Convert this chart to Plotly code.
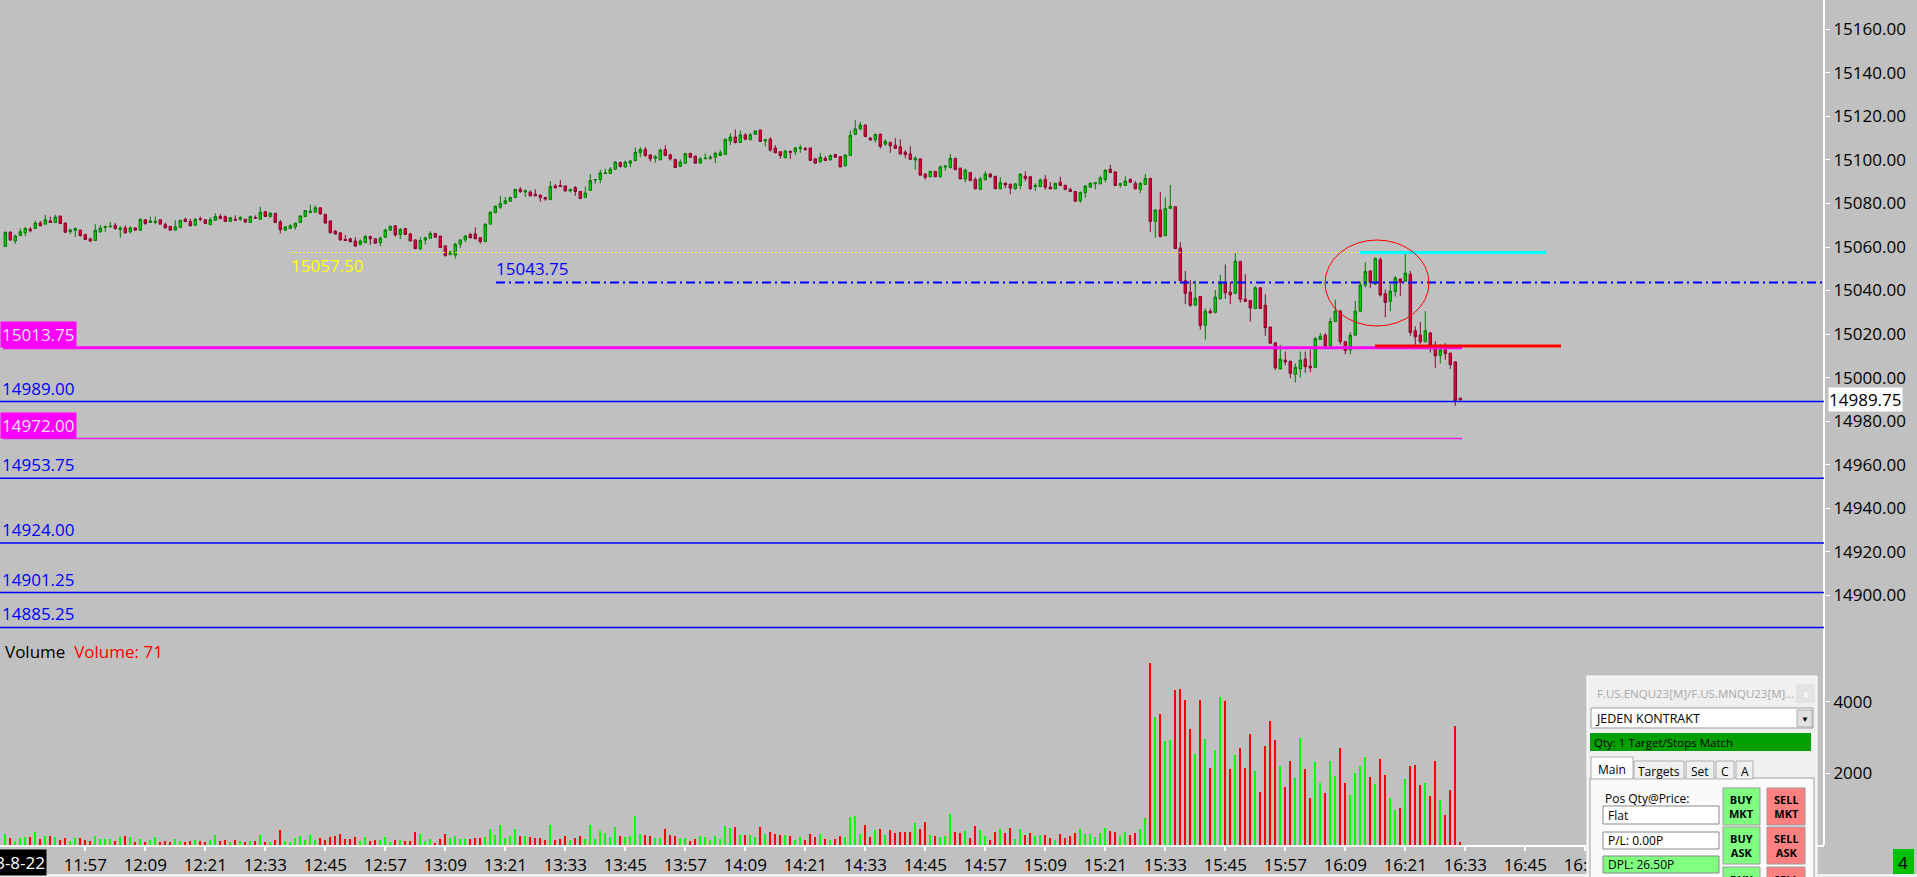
import plotly.graph_objects as go

# ---------------- data ----------------
bar_start = "11:41"
date_label = "2023-8-22"

opens = [
    15060.25, 15066.75, 15062.75, 15065.25, 15066.5, 15068.25, 15068.5, 15071.0, 15070.5, 15072.0,
    15071.25, 15074.25, 15071.0, 15067.0, 15067.75, 15067.75, 15065.75, 15063.75, 15063.0, 15067.0,
    15069.0, 15069.25, 15070.0, 15068.0, 15068.75, 15067.0, 15068.75, 15067.75, 15072.5, 15071.25,
    15071.25, 15072.5, 15070.25, 15069.5, 15067.75, 15069.0, 15072.75, 15071.75, 15070.0, 15073.0,
    15072.5, 15070.25, 15072.25, 15074.0, 15074.0, 15071.75, 15072.75, 15072.75, 15072.75, 15071.25,
    15073.5, 15072.75, 15076.25, 15074.0, 15075.5, 15071.5, 15067.75, 15068.5, 15069.25, 15071.25,
    15074.0, 15075.75, 15076.0, 15078.0, 15075.0, 15072.0, 15067.25, 15066.5, 15063.5, 15063.75,
    15062.75, 15061.25, 15062.0, 15064.75, 15063.75, 15062.0, 15064.5, 15067.75, 15069.75, 15065.75,
    15068.5, 15066.0, 15063.25, 15059.25, 15063.25, 15064.0, 15066.25, 15065.0, 15060.5, 15056.5,
    15056.25, 15061.25, 15063.25, 15065.75, 15066.0, 15064.25, 15062.5, 15070.5, 15075.75, 15078.25,
    15080.0, 15081.0, 15082.75, 15086.5, 15085.25, 15085.25, 15084.25, 15083.75, 15082.75, 15081.75,
    15088.0, 15088.25, 15088.0, 15085.75, 15087.25, 15085.5, 15082.75, 15086.0, 15090.75, 15091.0,
    15093.75, 15093.75, 15095.75, 15098.75, 15096.75, 15098.5, 15099.75, 15103.25, 15104.75, 15102.25,
    15100.75, 15100.0, 15104.75, 15102.25, 15100.25, 15097.0, 15098.5, 15103.0, 15101.75, 15098.5,
    15100.5, 15100.75, 15101.25, 15102.0, 15102.5, 15108.75, 15110.5, 15108.0, 15111.5, 15109.25,
    15111.75, 15113.75, 15108.75, 15109.5, 15105.5, 15103.75, 15101.0, 15104.0, 15103.75, 15105.25,
    15105.25, 15105.5, 15100.5, 15099.25, 15100.75, 15100.0, 15102.5, 15101.5, 15097.25, 15102.0,
    15111.75, 15114.25, 15116.0, 15110.0, 15109.25, 15111.75, 15107.25, 15108.0, 15106.75, 15106.0,
    15103.5, 15102.75, 15100.0, 15100.5, 15093.5, 15092.25, 15094.75, 15092.25, 15096.75, 15096.5,
    15100.75, 15096.25, 15091.25, 15094.25, 15091.0, 15086.5, 15091.0, 15093.5, 15092.5, 15086.75,
    15089.25, 15088.75, 15086.75, 15088.25, 15092.5, 15092.25, 15087.75, 15087.75, 15091.0, 15087.5,
    15086.75, 15089.75, 15088.25, 15086.5, 15085.5, 15081.25, 15085.0, 15087.5, 15089.0, 15089.0,
    15091.0, 15095.75, 15094.5, 15088.5, 15088.25, 15091.0, 15089.25, 15086.5, 15088.75, 15091.5,
    15071.75, 15077.0, 15065.25, 15077.75, 15078.5, 15059.5, 15044.5, 15039.25, 15033.25, 15037.25,
    15024.0, 15030.5, 15030.0, 15036.25, 15043.75, 15039.25, 15038.75, 15053.25, 15036.0, 15035.5,
    15031.75, 15041.25, 15033.25, 15023.25, 15016.0, 15004.0, 15008.0, 15007.5, 15001.5, 15004.0,
    15008.5, 15005.25, 15004.75, 15017.5, 15019.5, 15014.75, 15025.75, 15030.5, 15016.5, 15012.75,
    15019.5, 15030.5, 15042.5, 15049.0, 15043.0, 15054.25, 15038.5, 15035.0, 15039.5, 15045.25,
    15044.25, 15047.5, 15021.5, 15019.5, 15016.5, 15020.5, 15013.25, 15010.25, 15012.75, 15011.25,
    15007.25, 14990.5,
]
highs = [
    15067.0, 15067.25, 15065.75, 15068.5, 15069.25, 15069.25, 15072.0, 15072.0, 15074.75, 15074.0,
    15074.75, 15074.25, 15071.0, 15068.5, 15069.0, 15068.0, 15065.75, 15064.25, 15070.5, 15070.0,
    15070.0, 15071.5, 15071.0, 15069.5, 15070.0, 15069.5, 15069.0, 15073.0, 15072.75, 15074.0,
    15074.0, 15072.5, 15071.25, 15069.5, 15072.25, 15072.25, 15073.5, 15073.0, 15073.25, 15074.0,
    15072.5, 15073.5, 15075.5, 15075.25, 15074.5, 15073.5, 15074.5, 15074.25, 15072.75, 15074.5,
    15074.5, 15078.5, 15076.5, 15076.0, 15075.5, 15072.5, 15069.5, 15070.5, 15071.0, 15074.5,
    15077.0, 15079.5, 15079.0, 15078.0, 15075.0, 15072.0, 15067.75, 15066.5, 15065.5, 15064.25,
    15064.5, 15063.5, 15065.5, 15065.25, 15064.0, 15064.75, 15068.5, 15069.75, 15070.0, 15068.75,
    15068.5, 15066.5, 15063.5, 15064.5, 15064.75, 15067.25, 15066.25, 15065.0, 15060.75, 15058.0,
    15062.0, 15063.5, 15065.5, 15066.5, 15069.0, 15064.5, 15070.75, 15076.25, 15079.0, 15083.5,
    15083.0, 15083.0, 15086.75, 15087.5, 15086.5, 15086.0, 15086.5, 15084.25, 15083.0, 15090.25,
    15089.0, 15090.75, 15088.25, 15086.5, 15088.0, 15085.5, 15087.75, 15093.5, 15091.25, 15095.5,
    15096.0, 15096.75, 15099.5, 15099.25, 15099.75, 15100.0, 15105.75, 15106.0, 15106.0, 15102.75,
    15102.25, 15105.25, 15106.75, 15103.0, 15100.25, 15100.25, 15103.0, 15103.25, 15101.75, 15101.25,
    15103.0, 15102.25, 15103.75, 15104.5, 15109.75, 15112.25, 15114.0, 15113.5, 15112.25, 15112.5,
    15113.5, 15113.75, 15109.75, 15110.5, 15106.75, 15104.0, 15104.75, 15104.0, 15106.0, 15107.0,
    15106.0, 15105.5, 15100.75, 15103.25, 15101.75, 15102.5, 15102.75, 15101.75, 15102.5, 15113.5,
    15118.25, 15117.5, 15116.25, 15110.5, 15112.0, 15112.25, 15109.5, 15108.5, 15110.0, 15109.5,
    15104.5, 15106.25, 15101.75, 15100.5, 15094.0, 15094.75, 15094.75, 15097.5, 15097.25, 15102.75,
    15100.75, 15096.25, 15096.0, 15094.25, 15092.0, 15092.25, 15094.75, 15094.0, 15092.5, 15092.0,
    15089.75, 15089.25, 15089.25, 15093.75, 15094.75, 15092.5, 15089.25, 15091.5, 15093.0, 15089.75,
    15089.25, 15092.25, 15088.75, 15087.25, 15085.5, 15085.5, 15088.25, 15089.75, 15089.75, 15092.75,
    15095.75, 15097.75, 15094.5, 15089.5, 15092.5, 15091.5, 15090.25, 15089.75, 15093.5, 15091.75,
    15077.25, 15085.25, 15082.75, 15088.5, 15078.75, 15062.25, 15049.0, 15044.75, 15044.5, 15037.5,
    15031.75, 15031.75, 15040.25, 15047.25, 15052.0, 15044.0, 15057.25, 15053.75, 15047.5, 15035.5,
    15042.0, 15041.5, 15038.25, 15023.25, 15016.0, 15015.0, 15012.0, 15007.75, 15006.5, 15012.0,
    15012.0, 15012.75, 15018.5, 15020.5, 15020.5, 15027.5, 15035.75, 15031.25, 15016.5, 15021.0,
    15035.25, 15044.0, 15053.0, 15049.25, 15055.25, 15055.25, 15040.5, 15043.0, 15046.75, 15045.75,
    15056.75, 15049.0, 15023.5, 15025.5, 15030.5, 15021.0, 15016.75, 15015.25, 15015.75, 15011.5,
    15007.25, 14990.75,
]
lows = [
    15060.0, 15062.75, 15061.5, 15065.0, 15065.0, 15066.75, 15068.5, 15069.75, 15070.5, 15071.25,
    15071.0, 15070.75, 15066.75, 15066.0, 15064.5, 15064.75, 15063.25, 15062.25, 15063.0, 15066.5,
    15067.0, 15069.0, 15068.0, 15064.25, 15066.25, 15066.25, 15067.5, 15067.5, 15070.25, 15071.25,
    15070.5, 15070.5, 15068.75, 15067.75, 15067.75, 15069.0, 15071.25, 15069.5, 15069.75, 15071.75,
    15070.75, 15070.25, 15072.0, 15073.0, 15071.5, 15071.75, 15072.0, 15072.0, 15071.0, 15071.25,
    15073.0, 15072.75, 15074.0, 15073.5, 15071.25, 15066.25, 15067.5, 15068.25, 15068.0, 15071.0,
    15074.0, 15075.75, 15076.0, 15074.75, 15070.75, 15066.5, 15065.75, 15063.0, 15062.75, 15062.0,
    15060.0, 15060.75, 15061.75, 15061.0, 15061.5, 15060.5, 15064.25, 15067.5, 15064.75, 15063.75,
    15065.5, 15062.5, 15059.0, 15058.5, 15061.25, 15064.0, 15064.25, 15059.75, 15055.75, 15056.25,
    15054.75, 15059.5, 15062.25, 15064.0, 15063.75, 15061.5, 15062.25, 15070.5, 15075.5, 15077.5,
    15079.5, 15080.75, 15082.5, 15084.75, 15083.0, 15083.25, 15083.5, 15080.75, 15081.25, 15081.75,
    15086.75, 15087.75, 15085.5, 15085.0, 15083.5, 15082.0, 15082.75, 15086.0, 15089.0, 15089.25,
    15093.75, 15093.5, 15095.25, 15096.5, 15096.5, 15096.75, 15099.25, 15101.25, 15101.5, 15099.25,
    15098.75, 15100.0, 15101.75, 15099.75, 15096.5, 15096.75, 15098.5, 15100.75, 15098.5, 15098.25,
    15100.5, 15100.0, 15098.5, 15101.75, 15102.5, 15106.75, 15107.5, 15108.0, 15109.0, 15109.25,
    15111.5, 15108.5, 15106.25, 15103.75, 15103.25, 15100.5, 15100.75, 15100.5, 15102.25, 15103.25,
    15104.25, 15099.5, 15098.5, 15098.5, 15099.5, 15099.75, 15101.0, 15096.75, 15097.0, 15102.0,
    15111.75, 15113.75, 15110.5, 15108.75, 15108.0, 15105.25, 15106.5, 15103.25, 15105.0, 15102.5,
    15100.75, 15100.0, 15095.5, 15093.0, 15091.0, 15092.25, 15092.25, 15092.0, 15095.0, 15096.0,
    15095.5, 15091.25, 15089.75, 15090.5, 15086.5, 15086.25, 15090.5, 15091.75, 15086.75, 15086.5,
    15087.0, 15084.25, 15086.25, 15086.5, 15090.25, 15086.25, 15085.75, 15087.5, 15086.25, 15086.5,
    15086.75, 15088.0, 15086.0, 15085.25, 15081.0, 15080.25, 15082.75, 15087.25, 15086.5, 15089.0,
    15089.75, 15094.0, 15088.25, 15087.25, 15088.0, 15089.5, 15086.5, 15084.75, 15088.5, 15067.0,
    15064.25, 15064.5, 15065.0, 15077.5, 15059.25, 15044.25, 15033.75, 15032.5, 15033.25, 15022.0,
    15017.5, 15029.5, 15029.5, 15036.0, 15036.25, 15033.75, 15038.5, 15034.5, 15034.75, 15025.75,
    15031.5, 15031.5, 15019.25, 15015.75, 15003.5, 15003.75, 15005.75, 14999.75, 14997.75, 15000.0,
    15002.25, 15002.5, 15004.5, 15017.25, 15014.25, 15014.5, 15025.5, 15015.25, 15010.75, 15010.75,
    15019.25, 15030.25, 15041.5, 15041.25, 15042.5, 15037.25, 15027.75, 15030.5, 15037.25, 15037.5,
    15044.0, 15019.25, 15015.0, 15015.5, 15016.25, 15011.5, 15004.5, 15006.5, 15008.25, 15004.0,
    14987.0, 14989.5,
]
closes = [
    15066.75, 15063.25, 15065.0, 15067.0, 15068.5, 15067.5, 15071.0, 15069.75, 15072.5, 15071.25,
    15073.75, 15070.75, 15066.75, 15067.75, 15068.5, 15065.25, 15063.5, 15062.75, 15067.75, 15068.75,
    15069.25, 15069.5, 15068.5, 15068.75, 15066.5, 15068.75, 15067.75, 15072.75, 15070.75, 15072.0,
    15071.75, 15070.5, 15068.75, 15067.75, 15069.25, 15072.25, 15071.75, 15069.75, 15072.75, 15072.75,
    15070.75, 15072.5, 15074.0, 15073.0, 15071.75, 15073.5, 15072.25, 15073.5, 15071.5, 15074.0,
    15073.25, 15076.0, 15074.0, 15075.5, 15071.25, 15068.0, 15069.25, 15069.75, 15071.0, 15074.25,
    15076.75, 15076.5, 15078.0, 15075.25, 15071.0, 15066.5, 15066.0, 15063.25, 15063.0, 15062.5,
    15060.5, 15062.75, 15064.75, 15063.75, 15061.75, 15064.0, 15067.75, 15069.5, 15065.5, 15068.0,
    15065.75, 15062.75, 15059.25, 15063.0, 15064.25, 15066.25, 15064.5, 15059.75, 15056.0, 15057.75,
    15061.25, 15063.25, 15065.0, 15064.25, 15063.75, 15062.5, 15070.5, 15076.0, 15078.75, 15080.0,
    15081.25, 15082.75, 15086.5, 15085.5, 15085.75, 15083.5, 15083.5, 15082.75, 15082.0, 15087.75,
    15087.25, 15087.75, 15085.75, 15086.5, 15085.5, 15082.25, 15084.75, 15090.5, 15091.0, 15094.0,
    15094.0, 15095.75, 15099.0, 15097.0, 15099.0, 15099.5, 15103.5, 15104.75, 15102.0, 15100.5,
    15101.5, 15104.5, 15102.0, 15100.5, 15096.5, 15099.0, 15103.0, 15101.25, 15098.5, 15100.5,
    15100.75, 15101.25, 15103.0, 15103.25, 15109.5, 15110.5, 15108.0, 15111.5, 15109.5, 15111.5,
    15113.25, 15108.5, 15109.25, 15104.5, 15103.25, 15102.0, 15104.0, 15103.5, 15105.5, 15105.75,
    15104.75, 15099.75, 15098.5, 15101.25, 15099.75, 15102.0, 15101.25, 15096.75, 15102.25, 15111.25,
    15114.25, 15116.0, 15110.75, 15109.25, 15111.75, 15106.25, 15108.5, 15106.5, 15105.25, 15102.75,
    15102.5, 15100.25, 15100.75, 15093.0, 15092.0, 15094.75, 15092.25, 15096.75, 15097.25, 15100.75,
    15095.5, 15091.25, 15095.25, 15090.5, 15086.75, 15091.25, 15093.5, 15092.25, 15086.75, 15089.5,
    15088.5, 15087.0, 15089.0, 15093.5, 15091.5, 15086.75, 15088.25, 15090.75, 15087.5, 15086.75,
    15089.25, 15088.25, 15086.5, 15085.5, 15081.0, 15085.0, 15088.0, 15089.25, 15089.5, 15091.75,
    15095.25, 15094.25, 15088.25, 15089.0, 15090.25, 15089.75, 15086.75, 15089.25, 15091.5, 15071.75,
    15077.0, 15064.75, 15077.75, 15078.75, 15059.25, 15044.5, 15038.75, 15033.25, 15036.5, 15024.0,
    15030.5, 15029.75, 15037.0, 15043.5, 15039.0, 15038.0, 15053.5, 15036.0, 15035.0, 15032.0,
    15041.25, 15031.75, 15023.0, 15015.75, 15004.5, 15008.5, 15007.25, 15002.0, 15004.75, 15008.0,
    15005.0, 15004.5, 15018.0, 15019.0, 15014.5, 15025.75, 15030.5, 15016.5, 15012.5, 15019.5,
    15030.5, 15042.5, 15048.75, 15043.75, 15054.75, 15038.0, 15034.5, 15039.75, 15045.75, 15043.75,
    15048.0, 15020.75, 15018.75, 15016.5, 15021.5, 15014.75, 15010.0, 15012.75, 15011.0, 15006.0,
    14989.5, 14989.75,
]
volumes = [
    307, 186, 112, 186, 214, 223, 363, 168, 251, 251,
    223, 140, 196, 112, 196, 196, 140, 112, 251, 168,
    168, 168, 112, 223, 251, 223, 84, 168, 84, 140,
    223, 84, 112, 84, 168, 112, 84, 112, 140, 112,
    84, 140, 279, 112, 140, 84, 140, 112, 84, 112,
    112, 279, 84, 84, 140, 419, 112, 84, 196, 251,
    140, 279, 140, 196, 140, 223, 251, 307, 168, 168,
    223, 112, 223, 112, 140, 140, 223, 84, 140, 140,
    112, 112, 363, 307, 112, 168, 56, 168, 307, 196,
    251, 168, 168, 168, 196, 196, 223, 447, 279, 559,
    196, 251, 447, 251, 251, 223, 196, 196, 140, 559,
    140, 168, 251, 140, 196, 251, 168, 559, 168, 391,
    335, 223, 503, 251, 223, 251, 810, 307, 279, 251,
    196, 196, 447, 279, 251, 196, 196, 112, 168, 251,
    223, 140, 251, 168, 531, 475, 503, 279, 279, 279,
    223, 503, 307, 363, 307, 279, 279, 251, 140, 223,
    140, 307, 223, 307, 168, 140, 168, 251, 223, 782,
    810, 307, 559, 223, 419, 447, 279, 419, 335, 363,
    363, 363, 614, 447, 642, 279, 251, 223, 251, 866,
    363, 335, 391, 196, 531, 419, 251, 140, 363, 447,
    335, 475, 168, 447, 279, 335, 251, 279, 279, 196,
    140, 307, 196, 251, 335, 447, 307, 307, 223, 335,
    475, 391, 363, 251, 363, 279, 335, 447, 754, 5083,
    3575, 3659, 2905, 2933, 4329, 4357, 4050, 3240, 2542, 4050,
    2961, 2151, 2653, 4134, 4022, 2123, 2514, 2709, 2151, 3100,
    2067, 1480, 2765, 3463, 2933, 2206, 1620, 2346, 1871, 2989,
    2123, 1313, 2318, 1732, 1452, 2346, 1927, 2709, 1732, 1397,
    2011, 2206, 2458, 1899, 1704, 2402, 1955, 1313, 978, 1033,
    1843, 2206, 2234, 1676, 1732, 1369, 2346, 1257, 838, 1536,
    3324, 71,
]

time_labels = ["11:57", "12:09", "12:21", "12:33", "12:45", "12:57", "13:09", "13:21",
               "13:33", "13:45", "13:57", "14:09", "14:21", "14:33", "14:45", "14:57",
               "15:09", "15:21", "15:33", "15:45", "15:57", "16:09", "16:21", "16:33",
               "16:45", "16:57"]
price_ticks = [14900, 14920, 14940, 14960, 14980, 15000, 15020, 15040, 15060, 15080,
               15100, 15120, 15140, 15160]
volume_ticks = [2000, 4000]

blue_levels = [14989.00, 14953.75, 14924.00, 14901.25, 14885.25]
magenta_levels = [15013.75, 14972.00]
yellow_level = 15057.50
dashdot_level = 15043.75
red_zone_level = 15014.50
last_price = 14989.75
last_volume = 71

# ---------------- geometry / style ----------------
W, H = 1917, 877
PW, PH = 1824, 845          # plot area in pixels (left/top margin 0)
BAR0_PX, BAR_PX = 5.3, 5.0  # pixel of the first bar and bar spacing
FONT = "Open Sans"
BG = "#C0C0C0"
INC_FILL, INC_LINE = "#00D000", "#007A00"
DEC_FILL, DEC_LINE = "#E0002C", "#8C0030"


def hm(s):
    h, m = s.split(":")
    return int(h) * 60 + int(m)


t0 = hm(bar_start)
xs = [t0 + k for k in range(len(closes))]


def xd(px):  # pixel -> data x
    return t0 + (px - BAR0_PX) / BAR_PX


def PX(px):
    return px / PW


def PY(py):
    return 1 - py / PH


price_top_px, price_bot_px = 0, 637
PPX = 2.177  # pixels per point
P_REF, P_REF_PX = 15160.0, 29.3


def price_at(py):
    return P_REF - (py - P_REF_PX) / PPX


vol_top_px = 640
VPX = 0.0358  # pixels per contract

vol_colors = ["#00FF00" if c >= o else "#FF0000" for o, c in zip(opens, closes)]

fig = go.Figure()
fig.add_trace(go.Candlestick(
    x=xs, open=opens, high=highs, low=lows, close=closes,
    xaxis="x", yaxis="y", whiskerwidth=0,
    increasing=dict(line=dict(color=INC_LINE, width=1), fillcolor=INC_FILL),
    decreasing=dict(line=dict(color=DEC_LINE, width=1), fillcolor=DEC_FILL),
    showlegend=False, hoverinfo="skip"))
fig.add_trace(go.Bar(
    x=xs, y=volumes, width=0.4, xaxis="x", yaxis="y2",
    marker=dict(color=vol_colors, line=dict(width=0)),
    showlegend=False, hoverinfo="skip"))

tick_font = dict(family=FONT, size=17, color="#000000")

fig.update_layout(
    width=W, height=H,
    margin=dict(l=0, r=W - PW, t=0, b=H - PH, pad=0),
    paper_bgcolor=BG, plot_bgcolor=BG,
    hovermode=False, showlegend=False, bargap=0,
    xaxis=dict(domain=[0, 1], range=[xd(0), xd(PW)], anchor="y2",
               tickmode="array", tickvals=[hm(t) for t in time_labels], ticktext=time_labels,
               ticks="outside", ticklen=4, tickwidth=2, tickcolor="#FFFFFF",
               showline=True, linecolor="#FFFFFF", linewidth=2,
               showgrid=False, zeroline=False, tickfont=tick_font,
               rangeslider=dict(visible=False), automargin=False, fixedrange=True),
    yaxis=dict(domain=[PY(price_bot_px), 1], range=[price_at(price_bot_px), price_at(price_top_px)],
               side="right", anchor="x", tickmode="array", tickvals=price_ticks,
               ticktext=[f"{v:.2f}" for v in price_ticks],
               ticks="outside", ticklen=5, tickwidth=1, tickcolor="#FFFFFF",
               showgrid=False, zeroline=False, showline=False, tickfont=tick_font,
               automargin=False, fixedrange=True),
    yaxis2=dict(domain=[0, PY(vol_top_px)], range=[0, (PH - vol_top_px) / VPX],
                side="right", anchor="x", tickmode="array", tickvals=volume_ticks,
                ticktext=[str(v) for v in volume_ticks],
                ticks="outside", ticklen=5, tickwidth=1, tickcolor="#FFFFFF",
                showgrid=False, zeroline=False, showline=False, tickfont=tick_font,
                automargin=False, fixedrange=True),
)

shapes = []
ann = []


def hline(y, x0px, x1px, color, width, dash="solid"):
    shapes.append(dict(type="line", xref="x", yref="y", x0=xd(x0px), x1=xd(x1px), y0=y, y1=y,
                       line=dict(color=color, width=width, dash=dash), layer="above"))


# right axis white line
shapes.append(dict(type="line", xref="paper", yref="paper", x0=1, x1=1, y0=0, y1=1,
                   line=dict(color="#FFFFFF", width=2), layer="above"))

# level lines
hline(yellow_level, 291, 1360, "#FFFF00", 1, "2px,2px")
hline(yellow_level, 1360, 1546, "#00FFFF", 3)
hline(dashdot_level, 496, PW, "#0000FF", 2, "9px,4px,2px,4px")
hline(magenta_levels[0], 3, 1462, "#FF00FF", 3)
hline(magenta_levels[1], 3, 1462, "#DD22DD", 1.5)
hline(red_zone_level, 1375, 1561, "#FF0000", 3)
for lv in blue_levels:
    hline(lv, 0, PW, "#0000FF", 1.5)

# ellipse
shapes.append(dict(type="circle", xref="x", yref="y", x0=xd(1325), x1=xd(1429),
                   y0=price_at(326), y1=price_at(240),
                   line=dict(color="#FF0000", width=1), layer="above"))


def label(text, y, xpx, color, yanchor="bottom", bg=None, size=17):
    a = dict(text=text, xref="paper", yref="y", x=PX(xpx), y=y, xanchor="left", yanchor=yanchor,
             showarrow=False, font=dict(family=FONT, size=size, color=color), borderpad=1)
    if bg:
        a["bgcolor"] = bg
    ann.append(a)


label(f"{yellow_level:.2f}", yellow_level, 289, "#FFFF00", yanchor="top")
label(f"{dashdot_level:.2f}", dashdot_level, 494, "#0000FF")
for lv in magenta_levels:
    label(f"{lv:.2f}", lv, 0, "#E6E6E6", bg="#FF00FF")
for lv in blue_levels:
    label(f"{lv:.2f}", lv, 0, "#0000FF")

# last price tag on the axis
ann.append(dict(text=f"{last_price:.2f}", xref="paper", yref="y", x=1, xshift=4, y=last_price,
                xanchor="left", yanchor="middle", showarrow=False, bgcolor="#FFFFFF", borderpad=0,
                font=dict(family=FONT, size=17, color="#000000")))

# volume study title
ann.append(dict(text=f"Volume  <span style='color:#FF0000'>Volume: {last_volume}</span>",
                xref="paper", yref="paper", x=PX(3), y=PY(651), xanchor="left", yanchor="middle",
                showarrow=False, font=dict(family=FONT, size=17, color="#000000")))

# date label on time axis (clipped at the left edge, as on the source chart)
ann.append(dict(text=date_label, xref="paper", yref="paper", x=PX(47), y=PY(862),
                xanchor="right", yanchor="middle", showarrow=False, bgcolor="#000000", borderpad=1,
                font=dict(family=FONT, size=17, color="#FFFFFF")))


def rect(x0, y0, x1, y1, fill, line=None, lw=1):
    shapes.append(dict(type="rect", xref="paper", yref="paper", x0=PX(x0), x1=PX(x1),
                       y0=PY(y1), y1=PY(y0), fillcolor=fill,
                       line=dict(color=line or fill, width=lw if line else 0), layer="above"))


def text(x, y, s, size=12, color="#000000", xanchor="left", bold=False, yanchor="middle"):
    ann.append(dict(text=f"<b>{s}</b>" if bold else s, xref="paper", yref="paper",
                    x=PX(x), y=PY(y), xanchor=xanchor, yanchor=yanchor, showarrow=False,
                    font=dict(family=FONT, size=size, color=color)))


# bottom strip and status box
rect(0, 874, W, 880, "#F0F0F0")
rect(1893, 849, 1914, 874, "#00C000")
text(1903.5, 862, "4", size=17, xanchor="center")

# trade window
rect(1587, 676, 1817, 880, "#F0F0F0", "#FFFFFF")
text(1595, 693, "F.US.ENQU23[M]/F.US.MNQU23[M]...", size=11.5, color="#A8A8A8")
rect(1796, 684, 1815, 703, "#E3E3E3")
text(1805.5, 693, "x", size=11, color="#FFFFFF", xanchor="center")
rect(1591, 708, 1813, 728, "#FFFFFF", "#9A9A9A")
text(1594, 718, "JEDEN KONTRAKT", size=12.5)
rect(1797, 710, 1812, 727, "#E1E1E1", "#ADADAD")
text(1804.5, 718.5, "▼", size=8, xanchor="center")
rect(1590, 733, 1811, 751, "#00A000")
text(1592, 742, "Qty: 1 Target/Stops Match", size=11.5)
rect(1590, 778, 1814, 880, "#FAFAFA", "#A0A0A0")
tabs = [("Main", 1591, 1633), ("Targets", 1634, 1684), ("Set", 1686, 1714), ("C", 1716, 1734),
        ("A", 1736, 1753)]
for i, (name, a, b) in enumerate(tabs):
    top = 757 if i == 0 else 761
    rect(a, top, b, 779, "#FFFFFF" if i == 0 else "#F0F0F0", "#ADADAD")
    text((a + b) / 2, (top + 779) / 2 + 1, name, size=12, xanchor="center")
text(1603, 798, "Pos Qty@Price:", size=12)
rect(1603, 806, 1719, 824, "#FFFFFF", "#8A8A8A")
text(1606, 815, "Flat", size=12)
rect(1603, 832, 1719, 849, "#FFFFFF", "#8A8A8A")
text(1606, 840.5, "P/L: 0.00P", size=12)
rect(1603, 856, 1719, 873, "#80FF80", "#8A8A8A")
text(1606, 864.5, "DPL: 26.50P", size=12)
buttons = [("BUY<br>MKT", 1723, 788, 1760, 825, "#80FF80"), ("SELL<br>MKT", 1767, 788, 1805, 825, "#FF8080"),
           ("BUY<br>ASK", 1723, 827, 1760, 864, "#80FF80"), ("SELL<br>ASK", 1767, 827, 1805, 864, "#FF8080"),
           ("BUY", 1723, 867, 1760, 904, "#80FF80"), ("SELL", 1767, 867, 1805, 904, "#FF8080")]
for lab, a, b, c, d, col in buttons:
    rect(a, b, c, d, col, "#9A9A9A")
    if d < 880:
        text((a + c) / 2, (b + d) / 2, lab, size=11, xanchor="center", bold=True)
    else:
        text((a + c) / 2, b + 3, lab, size=11, xanchor="center", bold=True, yanchor="top")
rect(0, 877, W, 900, "#F0F0F0")

fig.update_layout(shapes=shapes, annotations=ann)

fig.write_html("out.html", config={"displayModeBar": False},
               post_script="document.body.style.margin='0';document.body.style.overflow='hidden';")
